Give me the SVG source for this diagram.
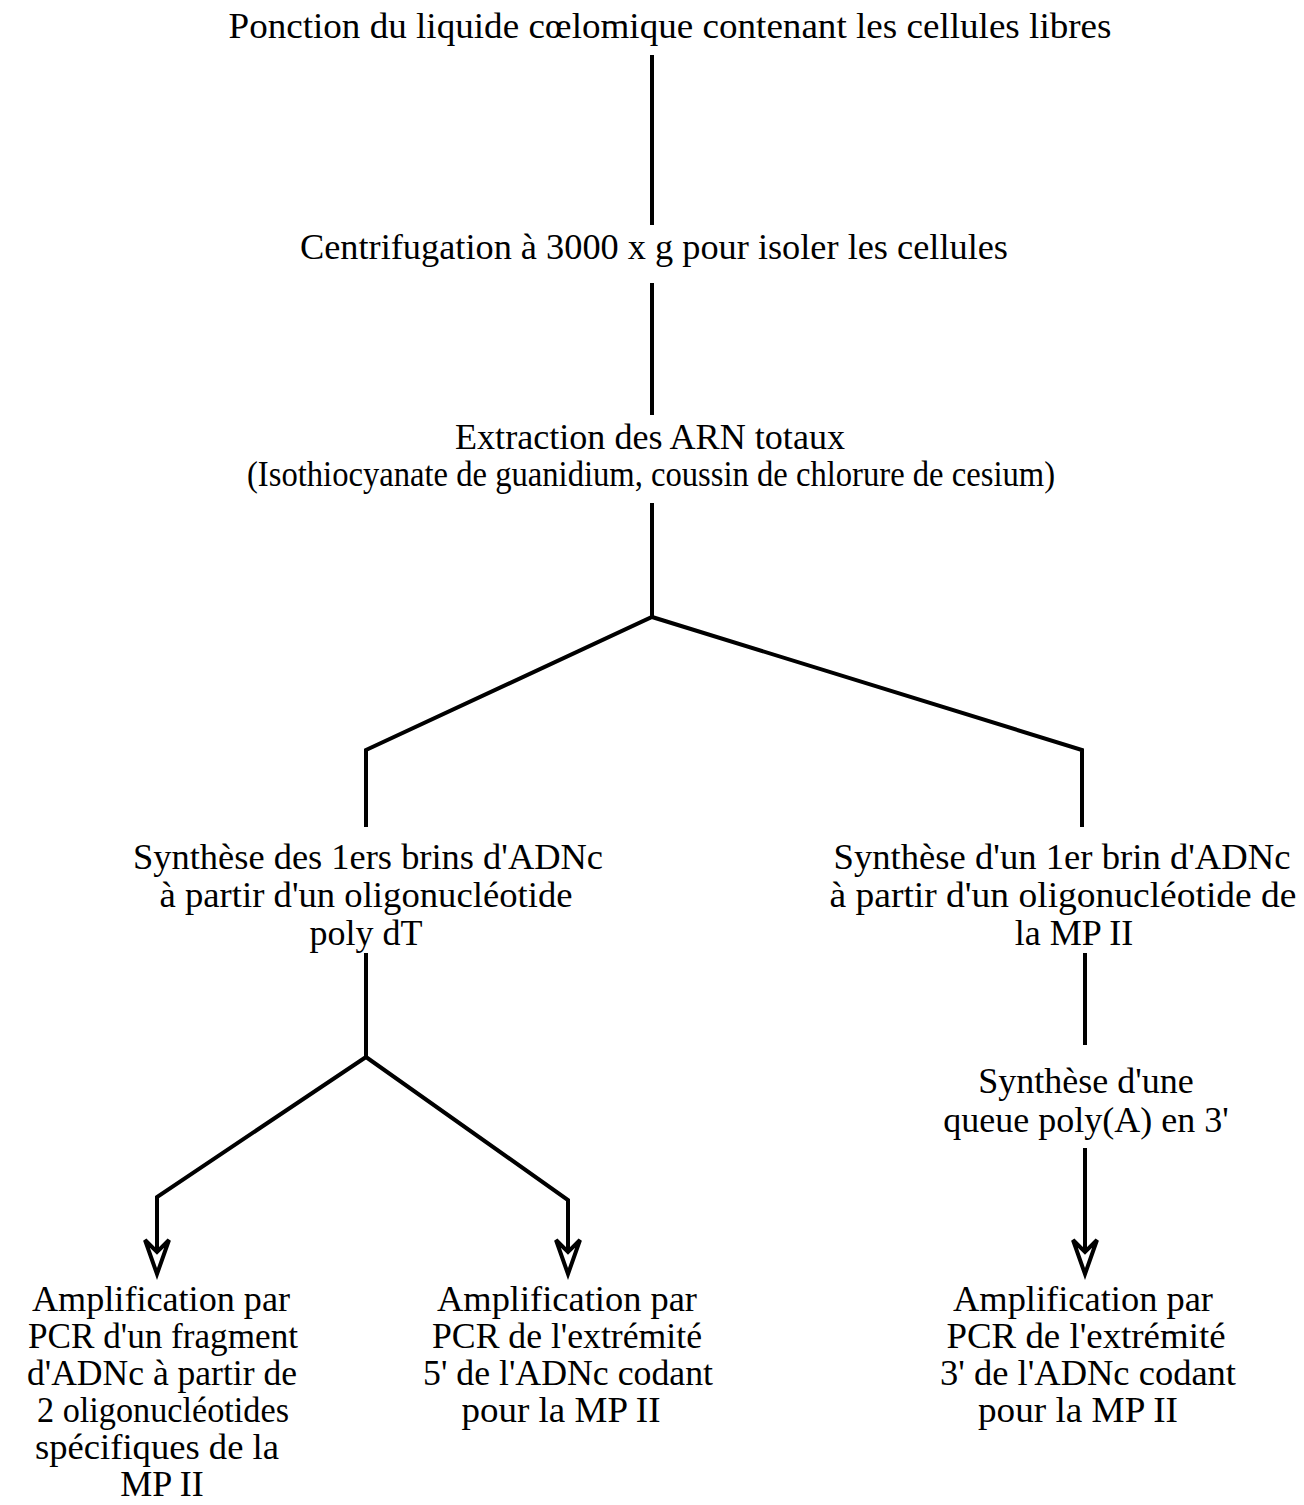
<svg xmlns="http://www.w3.org/2000/svg" width="1304" height="1505" viewBox="0 0 1304 1505">
<style>
text{font-family:"Liberation Serif","Times New Roman",serif;font-size:36px;fill:#000;text-anchor:middle}
.c{fill:none;stroke:#000;stroke-width:4;stroke-linejoin:miter}
.a{fill:#fff;stroke:#000;stroke-width:4;stroke-linejoin:miter}
</style>
<defs>
<path id="ah" class="a" d="M-12,0 L0,34 L12,0 L0,12 Z"/>
</defs>
<rect width="1304" height="1505" fill="#fff"/>
<g id="connectors">
<path class="c" d="M652,55 V225"/>
<path class="c" d="M652,283 V415"/>
<path class="c" d="M652,503 V617 M366,827 V750 L652,617 L1082,750 V827"/>
<path class="c" d="M366,953 V1057 M157,1252 V1197 L366,1057 L568,1200 V1252"/>
<path class="c" d="M1085,953 V1045"/>
<path class="c" d="M1085,1148 V1252"/>
<use href="#ah" x="157" y="1240"/>
<use href="#ah" x="568" y="1240"/>
<use href="#ah" x="1085" y="1240"/>
</g>
<g id="n1"><text x="670" y="38" textLength="883" lengthAdjust="spacingAndGlyphs">Ponction du liquide cœlomique contenant les cellules libres</text></g>
<g id="n2"><text x="654" y="259" textLength="708" lengthAdjust="spacingAndGlyphs">Centrifugation à 3000 x g pour isoler les cellules</text></g>
<g id="n3"><text x="650" y="449" textLength="390" lengthAdjust="spacingAndGlyphs">Extraction des ARN totaux</text>
<text x="651" y="486" textLength="808" lengthAdjust="spacingAndGlyphs">(Isothiocyanate de guanidium, coussin de chlorure de cesium)</text></g>
<g id="n4"><text x="368" y="869" textLength="470" lengthAdjust="spacingAndGlyphs">Synthèse des 1ers brins d'ADNc</text>
<text x="366" y="907" textLength="413" lengthAdjust="spacingAndGlyphs">à partir d'un oligonucléotide</text>
<text x="366" y="945">poly dT</text></g>
<g id="n5"><text x="1062" y="869" textLength="457" lengthAdjust="spacingAndGlyphs">Synthèse d'un 1er brin d'ADNc</text>
<text x="1063" y="907" textLength="467" lengthAdjust="spacingAndGlyphs">à partir d'un oligonucléotide de</text>
<text x="1074" y="945">la MP II</text></g>
<g id="n6"><text x="1086" y="1093">Synthèse d'une</text>
<text x="1086" y="1132">queue poly(A) en 3'</text></g>
<g id="n7"><text x="161" y="1311" textLength="258" lengthAdjust="spacingAndGlyphs">Amplification par</text>
<text x="163" y="1348" textLength="270" lengthAdjust="spacingAndGlyphs">PCR d'un fragment</text>
<text x="162" y="1385" textLength="270" lengthAdjust="spacingAndGlyphs">d'ADNc à partir de</text>
<text x="163" y="1422" textLength="252" lengthAdjust="spacingAndGlyphs">2 oligonucléotides</text>
<text x="157" y="1459" textLength="244" lengthAdjust="spacingAndGlyphs">spécifiques de la</text>
<text x="162" y="1496">MP II</text></g>
<g id="n8"><text x="567" y="1311" textLength="260" lengthAdjust="spacingAndGlyphs">Amplification par</text>
<text x="567" y="1348" textLength="270" lengthAdjust="spacingAndGlyphs">PCR de l'extrémité</text>
<text x="568" y="1385" textLength="290" lengthAdjust="spacingAndGlyphs">5' de l'ADNc codant</text>
<text x="561" y="1422" textLength="199" lengthAdjust="spacingAndGlyphs">pour la MP II</text></g>
<g id="n9"><text x="1083" y="1311" textLength="260" lengthAdjust="spacingAndGlyphs">Amplification par</text>
<text x="1086" y="1348" textLength="279" lengthAdjust="spacingAndGlyphs">PCR de l'extrémité</text>
<text x="1088" y="1385" textLength="296" lengthAdjust="spacingAndGlyphs">3' de l'ADNc codant</text>
<text x="1078" y="1422" textLength="200" lengthAdjust="spacingAndGlyphs">pour la MP II</text></g>
</svg>
